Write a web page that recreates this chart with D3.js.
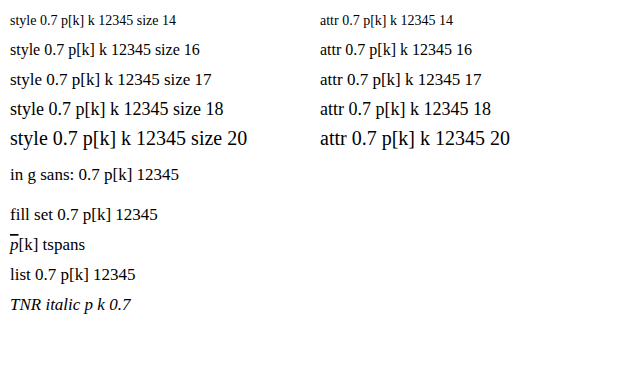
<!DOCTYPE html>
<html>
<head>
<meta charset="utf-8">
<script src="https://cdn.jsdelivr.net/npm/d3@7"></script>
<style>
  body { margin: 0; background: #fff; }
</style>
</head>
<body>
<div id="svg_container"></div>
<script>
const sizes = [14, 16, 17, 18, 20];
const svg = d3.select("#svg_container").append("svg").attr("width", 624).attr("height", 378);
sizes.forEach((s, i) => {
    svg.append("text").attr("x", 10).attr("y", 25 + i * 30)
        .style("font-family", "'Liberation Serif'").style("font-size", s + "px")
        .text("style 0.7 p[k] k 12345 size " + s);
    svg.append("text").attr("x", 320).attr("y", 25 + i * 30)
        .attr("font-family", "Liberation Serif").attr("font-size", s)
        .text("attr 0.7 p[k] k 12345 " + s);
});
const g = svg.append("g").attr("transform", "translate(0,160)").attr("font-family", "sans-serif").attr("font-size", 10);
g.append("text").attr("x", 10).attr("y", 20).style("font-family", "'Liberation Serif'").style("font-size", "17px").text("in g sans: 0.7 p[k] 12345");
svg.append("text").attr("x", 10).attr("y", 220).style("font-family", "'Liberation Serif'").style("font-size", "17px").style("fill", "#000").text("fill set 0.7 p[k] 12345");
const t = svg.append("text").attr("x", 10).attr("y", 250).style("font-family", "'Liberation Serif'").style("font-size", "17px");
t.append("tspan").style("font-style", "italic").style("text-decoration", "overline").text("p");
t.append("tspan").text("[k] tspans");
svg.append("text").attr("x", 10).attr("y", 280).style("font-family", "Liberation Serif, serif").style("font-size", "17px").text("list 0.7 p[k] 12345");
svg.append("text").attr("x", 10).attr("y", 310).style("font-family", "Times New Roman").style("font-size", "17px").style("font-style", "italic").text("TNR italic p k 0.7");
</script>
</body>
</html>
